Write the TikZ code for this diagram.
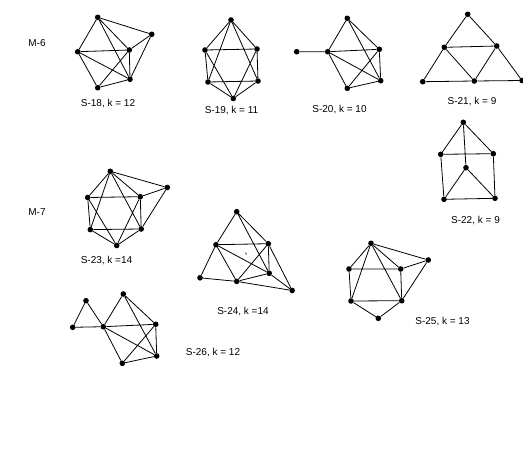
\documentclass[tikz,border=0pt]{standalone}
\usepackage{fontspec}
\setmainfont{Liberation Sans}
\usetikzlibrary{positioning}

\begin{document}
\begin{tikzpicture}[
    x=1pt, y=-1pt,
    vtx/.style={circle, fill, inner sep=0pt, minimum size=5.6pt},
    edge/.style={line width=0.8pt},
    lbl/.style={font=\fontsize{10}{12}\selectfont, inner sep=0pt}
]
\useasboundingbox (0,0) rectangle (523,464);

% row M-6
\node[lbl] (m6) at (37,43) {M-6};

% S-18
\node[vtx] (a18) at (97.7,17.3) {};
\node[vtx] (b18) at (151.7,34.3) {};
\node[vtx] (c18) at (77.7,51.7) {};
\node[vtx] (d18) at (129.3,50) {};
\node[vtx] (e18) at (130,79.3) {};
\node[vtx] (f18) at (97.7,87.7) {};
\draw[edge] (a18) -- (b18) (a18) -- (c18) (a18) -- (d18) (a18) -- (e18)
            (b18) -- (d18) (b18) -- (e18) (c18) -- (d18) (c18) -- (e18)
            (c18) -- (f18) (d18) -- (e18) (d18) -- (f18) (e18) -- (f18);
\node[lbl] (t18) at (108,104) {S-18, k = 12};

% S-19
\node[vtx] (a19) at (231,20) {};
\node[vtx] (b19) at (205,50) {};
\node[vtx] (c19) at (257,49) {};
\node[vtx] (d19) at (208,82) {};
\node[vtx] (e19) at (258,81) {};
\node[vtx] (f19) at (233.3,98.5) {};
\draw[edge] (a19) -- (b19) (a19) -- (c19) (a19) -- (d19) (a19) -- (e19)
            (b19) -- (c19) (b19) -- (d19) (b19) -- (f19) (c19) -- (e19)
            (c19) -- (f19) (d19) -- (e19) (d19) -- (f19) (e19) -- (f19);
\node[lbl] (t19) at (231.5,111) {S-19, k = 11};

% S-20
\node[vtx] (a20) at (296.7,51.7) {};
\node[vtx] (b20) at (327.7,51.7) {};
\node[vtx] (c20) at (347.3,18.3) {};
\node[vtx] (d20) at (379.3,49.3) {};
\node[vtx] (e20) at (380.7,80.7) {};
\node[vtx] (f20) at (347.3,88.3) {};
\draw[edge] (a20) -- (b20) (b20) -- (c20) (b20) -- (d20) (b20) -- (e20)
            (b20) -- (f20) (c20) -- (d20) (c20) -- (e20) (d20) -- (e20)
            (d20) -- (f20) (f20) -- (e20);
\node[lbl] (t20) at (339.5,110) {S-20, k = 10};

% S-21
\node[vtx] (a21) at (467.7,14.3) {};
\node[vtx] (b21) at (444.3,47.3) {};
\node[vtx] (c21) at (496.7,46) {};
\node[vtx] (d21) at (422.7,81.7) {};
\node[vtx] (e21) at (474.3,81) {};
\node[vtx] (f21) at (522,80.5) {};
\draw[edge] (a21) -- (b21) (a21) -- (c21) (b21) -- (c21) (b21) -- (d21)
            (b21) -- (e21) (c21) -- (e21) (c21) -- (f21) (d21) -- (e21)
            (e21) -- (f21);
\node[lbl] (t21) at (472,102) {S-21, k = 9};

% S-22
\node[vtx] (a22) at (463.3,122.3) {};
\node[vtx] (b22) at (440.7,154.3) {};
\node[vtx] (c22) at (493.3,153.7) {};
\node[vtx] (d22) at (466,167.7) {};
\node[vtx] (e22) at (444,199.3) {};
\node[vtx] (f22) at (495,198.3) {};
\draw[edge] (a22) -- (b22) (a22) -- (c22) (a22) -- (d22) (b22) -- (c22)
            (b22) -- (e22) (c22) -- (f22) (d22) -- (e22) (d22) -- (f22)
            (e22) -- (f22);
\node[lbl] (t22) at (475.5,221) {S-22, k = 9};

% row M-7
\node[lbl] (m7) at (37,212) {M-7};

% S-23
\node[vtx] (a23) at (110.3,171.3) {};
\node[vtx] (b23) at (87.7,197.5) {};
\node[vtx] (c23) at (140.3,196.7) {};
\node[vtx] (d23) at (167.3,187.5) {};
\node[vtx] (e23) at (90.3,229.6) {};
\node[vtx] (f23) at (141.2,229) {};
\node[vtx] (g23) at (116.7,245.5) {};
\draw[edge] (a23) -- (b23) (a23) -- (c23) (a23) -- (d23) (a23) -- (e23)
            (a23) -- (f23) (b23) -- (c23) (b23) -- (e23) (b23) -- (g23)
            (c23) -- (f23) (c23) -- (d23) (c23) -- (g23) (d23) -- (f23)
            (e23) -- (f23) (e23) -- (g23) (f23) -- (g23);
\node[lbl] (t23) at (106.5,261) {S-23, k =14};

% S-24
\node[vtx] (a24) at (236.7,211.7) {};
\node[vtx] (b24) at (216,244.7) {};
\node[vtx] (c24) at (268.3,243.7) {};
\node[vtx] (d24) at (200,277.8) {};
\node[vtx] (e24) at (269.2,273.3) {};
\node[vtx] (f24) at (236.7,281.4) {};
\node[vtx] (g24) at (292.2,290.5) {};
\draw[edge] (a24) -- (b24) (a24) -- (c24) (a24) -- (e24) (c24) -- (g24)
            (e24) -- (g24) (c24) -- (e24) (b24) -- (c24) (b24) -- (e24)
            (b24) -- (f24) (b24) -- (d24) (d24) -- (f24) (f24) -- (c24)
            (f24) -- (e24) (f24) -- (g24);
\draw[line width=0.5pt] (245.2,252.6) -- (246.8,254.4);
\node[lbl] (t24) at (243,312) {S-24, k =14};

% S-25
\node[vtx] (a25) at (371,243.3) {};
\node[vtx] (b25) at (349,269) {};
\node[vtx] (c25) at (400.7,269) {};
\node[vtx] (d25) at (428.3,260) {};
\node[vtx] (e25) at (351,301) {};
\node[vtx] (f25) at (401.7,300.7) {};
\node[vtx] (g25) at (378.3,318.3) {};
\draw[edge] (a25) -- (b25) (a25) -- (c25) (a25) -- (d25) (a25) -- (e25)
            (a25) -- (f25) (b25) -- (c25) (b25) -- (e25) (c25) -- (f25)
            (c25) -- (d25) (d25) -- (f25) (e25) -- (f25) (e25) -- (g25)
            (f25) -- (g25);
\node[lbl] (t25) at (442.5,322) {S-25, k = 13};

% S-26
\node[vtx] (a26) at (72.7,327.3) {};
\node[vtx] (b26) at (86,300.7) {};
\node[vtx] (c26) at (103.3,326.7) {};
\node[vtx] (d26) at (123.3,294) {};
\node[vtx] (e26) at (155.7,324.3) {};
\node[vtx] (f26) at (156.7,356) {};
\node[vtx] (g26) at (122.3,363.3) {};
\draw[edge] (a26) -- (b26) (b26) -- (c26) (a26) -- (c26) (c26) -- (d26)
            (c26) -- (e26) (c26) -- (f26) (c26) -- (g26) (d26) -- (e26)
            (d26) -- (f26) (e26) -- (f26) (e26) -- (g26) (g26) -- (f26);
\node[lbl] (t26) at (213,353) {S-26, k = 12};
\end{tikzpicture}
\end{document}
